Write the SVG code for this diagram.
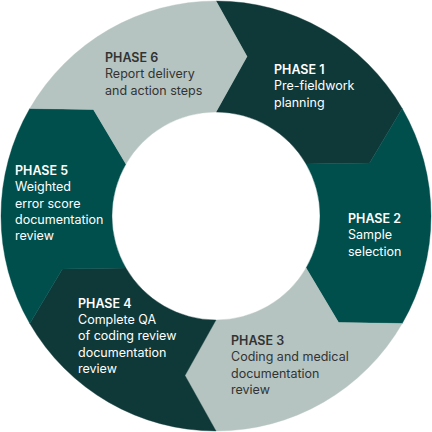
<svg xmlns="http://www.w3.org/2000/svg" width="432" height="432" viewBox="0 0 432 432">
<style>
.dark{fill:#0f3938;stroke:#0f3938;stroke-width:0.4}
.teal{fill:#004f4c;stroke:#004f4c;stroke-width:0.4}
.light{fill:#b5c4c1;stroke:#b5c4c1;stroke-width:0.4}
text{font-family:Inter,"Liberation Sans",sans-serif;font-size:12.5px}
.w{fill:#ffffff}
.k{fill:#333333}
.h{font-weight:600}
</style>
<rect width="432" height="432" fill="#ffffff"/>
<g id="phase1">
<path class="dark" d="M216,1 A215,215 0 0 1 402.2,108.5 L369.6,163.1 L306.1,164 A104,104 0 0 0 216,112 L247,56.5 Z"/>
<text class="w" x="274" y="74"><tspan class="h">PHASE 1</tspan><tspan x="274" dy="16.3">Pre-fieldwork</tspan><tspan x="274" dy="16.3">planning</tspan></text>
</g>
<g id="phase2">
<path class="teal" d="M402.2,108.5 A215,215 0 0 1 402.2,323.5 L338.6,322.6 L306.1,268 A104,104 0 0 0 306.1,164 L369.6,163.1 Z"/>
<text class="w" x="348" y="223"><tspan class="h">PHASE 2</tspan><tspan x="348" dy="16.3">Sample</tspan><tspan x="348" dy="16.3">selection</tspan></text>
</g>
<g id="phase3">
<path class="light" d="M402.2,323.5 A215,215 0 0 1 216,431 L185,375.5 L216,320 A104,104 0 0 0 306.1,268 L338.6,322.6 Z"/>
<text class="k" x="231" y="345"><tspan class="h">PHASE 3</tspan><tspan x="231" dy="16.3">Coding and medical</tspan><tspan x="231" dy="16.3">documentation</tspan><tspan x="231" dy="16.3">review</tspan></text>
</g>
<g id="phase4">
<path class="dark" d="M216,431 A215,215 0 0 1 29.8,323.5 L62.4,268.9 L125.9,268 A104,104 0 0 0 216,320 L185,375.5 Z"/>
<text class="w" x="78" y="307.7"><tspan class="h">PHASE 4</tspan><tspan x="78" dy="16.3">Complete QA</tspan><tspan x="78" dy="16.3">of coding review</tspan><tspan x="78" dy="16.3">documentation</tspan><tspan x="78" dy="16.3">review</tspan></text>
</g>
<g id="phase5">
<path class="teal" d="M29.8,323.5 A215,215 0 0 1 29.8,108.5 L93.4,109.4 L125.9,164 A104,104 0 0 0 125.9,268 L62.4,268.9 Z"/>
<text class="w" x="15" y="175"><tspan class="h">PHASE 5</tspan><tspan x="15" dy="16.3">Weighted</tspan><tspan x="15" dy="16.3">error score</tspan><tspan x="15" dy="16.3">documentation</tspan><tspan x="15" dy="16.3">review</tspan></text>
</g>
<g id="phase6">
<path class="light" d="M29.8,108.5 A215,215 0 0 1 216,1 L247,56.5 L216,112 A104,104 0 0 0 125.9,164 L93.4,109.4 Z"/>
<text class="k" x="105" y="62"><tspan class="h">PHASE 6</tspan><tspan x="105" dy="16.3">Report delivery</tspan><tspan x="105" dy="16.3">and action steps</tspan></text>
</g>
</svg>
